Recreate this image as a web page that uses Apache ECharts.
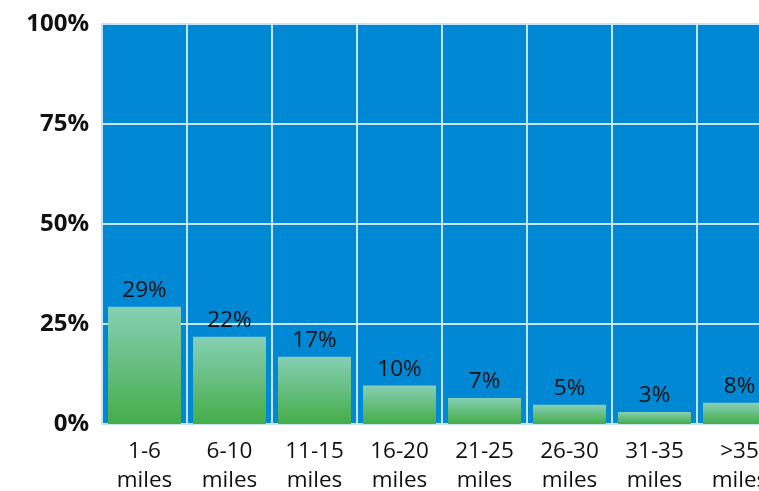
<!DOCTYPE html>
<html>
<head>
<meta charset="utf-8">
<script src="https://cdn.jsdelivr.net/npm/echarts@6/dist/echarts.min.js"></script>
<style>
html,body{margin:0;padding:0;background:#fff;}
#chart{width:759px;height:491px;}
</style>
</head>
<body>
<div id="chart"></div>
<script>
// Categories (distance bands)
var categories = ["1-6\nmiles", "6-10\nmiles", "11-15\nmiles", "16-20\nmiles", "21-25\nmiles", "26-30\nmiles", "31-35\nmiles", ">35\nmiles"];
// Bar heights as drawn in the picture (percent)
var barValues = [29.3, 21.8, 16.8, 9.6, 6.5, 4.8, 3.0, 5.3];
// Label texts printed above the bars
var barLabels = ["29%", "22%", "17%", "10%", "7%", "5%", "3%", "8%"];
// Y axis ticks
var yTicks = [0, 25, 50, 75, 100];

var chart = echarts.init(document.getElementById('chart'), null, {renderer: 'canvas'});
var font = '"Open Sans", "Noto Sans", sans-serif';
var gridColor = '#c4e5f8';

chart.setOption({
  animation: false,
  grid: {
    left: 102, top: 24, bottom: 67, width: 680,
    containLabel: false,
    outerBoundsMode: 'none',
    show: true, backgroundColor: '#0088d5',
    borderColor: gridColor, borderWidth: 2
  },
  xAxis: {
    type: 'category',
    data: categories,
    boundaryGap: true,
    axisLine: {show: false},
    axisTick: {show: false},
    splitLine: {show: true, lineStyle: {color: gridColor, width: 2}},
    axisLabel: {
      interval: 0, margin: 13, hideOverlap: false,
      fontFamily: font, fontSize: 22.5, lineHeight: 29, color: '#111'
    }
  },
  yAxis: {
    type: 'value',
    min: yTicks[0], max: yTicks[yTicks.length - 1], interval: 25,
    axisLine: {show: false},
    axisTick: {show: false},
    splitLine: {show: true, lineStyle: {color: gridColor, width: 2}},
    axisLabel: {
      margin: 13, fontFamily: font, fontSize: 24, fontWeight: 'bold', color: '#111',
      formatter: function (v) { return v + '%'; }
    }
  },
  series: [{
    type: 'bar',
    data: barValues,
    barWidth: 73,
    itemStyle: {
      color: new echarts.graphic.LinearGradient(0, 0, 0, 1, [
        {offset: 0, color: '#86cfb5'},
        {offset: 1, color: '#45ad48'}
      ])
    },
    label: {
      show: true, position: 'top', distance: 5,
      fontFamily: font, fontSize: 22.5, color: '#111',
      formatter: function (p) { return barLabels[p.dataIndex]; }
    }
  }]
});
</script>
</body>
</html>
